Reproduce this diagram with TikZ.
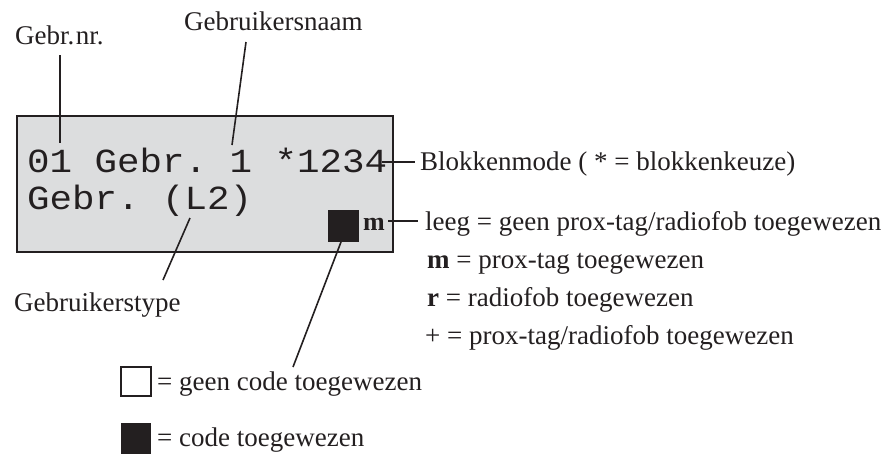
\documentclass[tikz,border=0pt]{standalone}
\usepackage{fontspec}
\setmainfont{Liberation Serif}
\setmonofont{Liberation Mono}
\definecolor{lcd}{HTML}{DCDDDE}
\definecolor{ink}{HTML}{231F20}
\begin{document}
\begin{tikzpicture}[x=1pt,y=-1pt,
  lbl/.style={font=\fontsize{27}{30}\selectfont, inner sep=0pt, anchor=base west, text=ink},
  lcdtxt/.style={font=\fontsize{37.5}{40}\ttfamily, inner sep=0pt, anchor=base west, text=ink},
  conn/.style={line width=1.6pt, draw=ink},
  fillsq/.style={fill=ink, inner sep=0pt, outer sep=0pt, anchor=north west}]
\useasboundingbox (0,0) rectangle (884,456);
% LCD box
\node[draw=ink, fill=lcd, line width=2.2pt, inner sep=0pt, outer sep=0pt,
      minimum width=376pt, minimum height=136pt, anchor=north west] (lcd) at (17,116) {};
\node[lcdtxt] (row1) at (27,172) {\scalebox{1}[0.9]{01 Gebr. 1 *1234}};
\node[lcdtxt] (row2) at (27,209) {\scalebox{1}[0.9]{Gebr. (L2)}};
\node[fillsq, minimum width=31pt, minimum height=32pt] (code) at (328,210) {};
\node[font=\fontsize{26}{30}\selectfont\bfseries, inner sep=0pt, anchor=base west, text=ink] (mflag) at (363,230) {m};
% labels
\node[lbl] (gnr) at (15,44) {Gebr.\hspace{1.5pt}nr.};
\node[lbl] (gnaam) at (184,30) {Gebruikersnaam};
\node[lbl] (blok) at (420,170) {Blokkenmode ( * = blokkenkeuze)};
\node[lbl] (leeg) at (425,230) {leeg = geen prox-tag/radiofob toegewezen};
\node[lbl] (lm) at (427,268) {\textbf{m} = prox-tag toegewezen};
\node[lbl] (lr) at (427,306) {\textbf{r} = radiofob toegewezen};
\node[lbl] (lp) at (425,344) {+ = prox-tag/radiofob toegewezen};
\node[lbl] (gtype) at (14,311) {Gebruikerstype};
% legend
\node[draw=ink, line width=1.3pt, inner sep=0pt, outer sep=0pt, minimum width=30pt, minimum height=29pt, anchor=north west] (open) at (121,367) {};
\node[lbl] (lopen) at (157,390) {= geen code toegewezen};
\node[fillsq, minimum width=30pt, minimum height=31pt] (full) at (121,423) {};
\node[lbl] (lfull) at (157,446) {= code toegewezen};
% connector end points
\coordinate (a1) at (60,55);   \coordinate (a2) at (60,143);
\coordinate (b1) at (246,42);  \coordinate (b2) at (232,145);
\coordinate (c1) at (382,162); \coordinate (c2) at (415,162);
\coordinate (d1) at (388,221); \coordinate (d2) at (418,221);
\coordinate (e1) at (190,218); \coordinate (e2) at (163,280);
\coordinate (f1) at (341,242); \coordinate (f2) at (293,367);
\draw[conn] (a1) -- (a2);
\draw[conn] (b1) -- (b2);
\draw[conn] (c1) -- (c2);
\draw[conn] (d1) -- (d2);
\draw[conn] (e1) -- (e2);
\draw[conn] (f1) -- (f2);
\end{tikzpicture}
\end{document}
